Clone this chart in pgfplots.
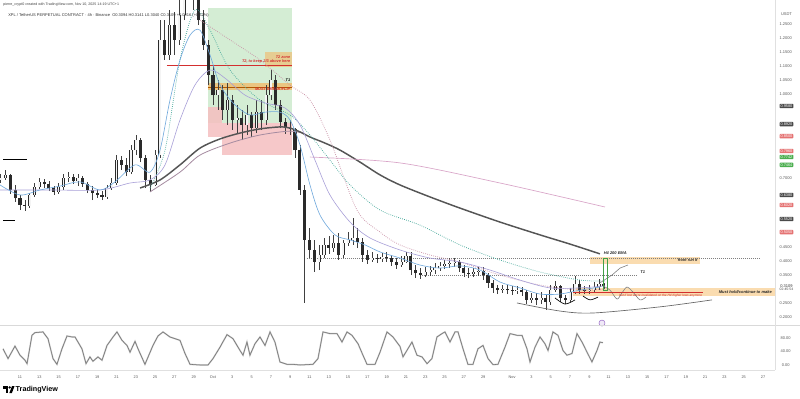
\documentclass[border=0pt]{standalone}
\usepackage{fontspec}
\setmainfont{Liberation Sans}
\usepackage{pgfplots}
\usepackage{pgfplotstable}
\pgfplotsset{compat=1.18}
\definecolor{upc}{HTML}{F4F4F4}
\definecolor{dnc}{HTML}{2A2A2A}
\definecolor{wickc}{HTML}{404040}
\definecolor{tickc}{HTML}{5A5A5A}
\definecolor{blueMA}{HTML}{6FA8DC}
\definecolor{lavMA}{HTML}{A89FD8}
\definecolor{tealDot}{HTML}{45A89A}
\definecolor{pinkDot}{HTML}{C98FA5}
\definecolor{emaDark}{HTML}{555555}
\definecolor{mauve}{HTML}{A58BA0}
\definecolor{pinkLine}{HTML}{D9A5C8}
\definecolor{tvred}{HTML}{D32F2F}
\definecolor{tvgreen}{HTML}{43A047}
\definecolor{boxdark}{HTML}{4A4A4A}
\definecolor{boxred}{HTML}{E57373}
\definecolor{boxgreen}{HTML}{4CAF50}
\definecolor{zoneg}{HTML}{CDEACD}
\definecolor{zoner}{HTML}{F5BFC0}
\definecolor{zoneo}{HTML}{F2B866}
\definecolor{zoneo2}{HTML}{FAD9A8}
\definecolor{evpurple}{HTML}{9C6FC9}

\pgfplotstableread{
d o h l c
9.0 0.692 0.713 0.681 0.699
9.5 0.699 0.728 0.692 0.710
12.0 0.599 0.645 0.591 0.638
12.5 0.638 0.681 0.631 0.667
13.0 0.667 0.699 0.659 0.685
15.0 0.649 0.681 0.642 0.667
15.5 0.667 0.713 0.656 0.699
16.0 0.699 0.720 0.685 0.703
17.0 0.688 0.713 0.670 0.699
20.0 0.631 0.674 0.624 0.663
20.5 0.663 0.699 0.656 0.681
21.0 0.681 0.781 0.674 0.763
22.5 0.720 0.817 0.713 0.799
23.0 0.799 0.853 0.781 0.835
25.0 0.674 0.799 0.670 0.781
25.5 0.781 1.265 0.771 1.194
26.5 1.140 1.301 1.122 1.247
27.5 1.194 1.373 1.176 1.283
28.0 1.283 1.659 1.265 1.444
28.5 1.444 1.681 1.409 1.516
31.5 0.996 1.050 0.943 1.014
32.5 0.943 1.039 0.889 0.978
33.5 0.907 0.961 0.860 0.914
34.5 0.889 0.961 0.853 0.925
35.5 0.878 0.978 0.860 0.935
36.5 0.907 1.032 0.889 0.996
37.0 0.996 1.086 0.978 1.050
42.0 0.398 0.459 0.369 0.423
42.5 0.423 0.484 0.412 0.459
43.5 0.448 0.495 0.434 0.466
44.5 0.423 0.477 0.412 0.466
45.0 0.466 0.505 0.455 0.477
45.5 0.477 0.556 0.459 0.484
47.5 0.405 0.434 0.398 0.412
48.5 0.409 0.430 0.398 0.416
50.5 0.387 0.419 0.380 0.398
51.0 0.398 0.434 0.394 0.419
53.0 0.351 0.380 0.344 0.362
53.5 0.362 0.384 0.348 0.369
54.0 0.369 0.394 0.355 0.376
54.5 0.376 0.398 0.366 0.384
55.0 0.384 0.405 0.373 0.391
55.5 0.391 0.412 0.376 0.394
56.0 0.394 0.412 0.380 0.398
58.0 0.355 0.376 0.344 0.362
58.5 0.362 0.380 0.348 0.366
61.0 0.297 0.315 0.287 0.301
62.5 0.294 0.312 0.283 0.297
64.0 0.262 0.287 0.251 0.269
65.0 0.262 0.290 0.247 0.269
66.0 0.254 0.315 0.244 0.297
66.5 0.297 0.330 0.290 0.312
68.0 0.262 0.305 0.254 0.290
68.5 0.290 0.348 0.283 0.319
70.0 0.294 0.315 0.283 0.297
70.5 0.297 0.326 0.290 0.308
71.0 0.308 0.337 0.297 0.319
}\candlesU

\pgfplotstableread{
d o h l c
10.0 0.710 0.713 0.642 0.656
10.5 0.656 0.674 0.613 0.627
11.0 0.627 0.638 0.584 0.602
11.5 0.602 0.620 0.581 0.599
13.5 0.685 0.695 0.663 0.677
14.0 0.677 0.688 0.652 0.663
14.5 0.663 0.670 0.638 0.649
16.5 0.703 0.713 0.677 0.688
17.5 0.699 0.706 0.667 0.677
18.0 0.677 0.685 0.645 0.656
18.5 0.656 0.670 0.620 0.645
19.0 0.645 0.659 0.627 0.638
19.5 0.638 0.652 0.620 0.631
21.5 0.763 0.778 0.728 0.746
22.0 0.746 0.771 0.706 0.720
23.5 0.835 0.842 0.756 0.771
24.0 0.771 0.781 0.663 0.692
24.5 0.692 0.710 0.649 0.674
26.0 1.194 1.265 1.122 1.140
27.0 1.247 1.294 1.140 1.194
29.0 1.516 1.552 1.301 1.337
29.5 1.337 1.355 1.247 1.265
30.0 1.265 1.301 1.158 1.176
30.5 1.176 1.194 1.032 1.068
31.0 1.068 1.104 0.961 0.996
32.0 1.014 1.032 0.907 0.943
33.0 0.978 0.996 0.871 0.907
34.0 0.914 0.943 0.835 0.889
35.0 0.925 0.935 0.846 0.878
36.0 0.935 0.978 0.871 0.907
37.5 1.050 1.068 0.943 0.961
38.0 0.961 0.978 0.878 0.900
38.5 0.900 0.914 0.857 0.878
39.0 0.878 0.907 0.853 0.875
39.5 0.875 0.878 0.771 0.799
40.0 0.799 0.817 0.638 0.656
40.5 0.656 0.674 0.251 0.477
41.0 0.477 0.520 0.412 0.441
41.5 0.441 0.477 0.362 0.398
43.0 0.459 0.491 0.427 0.448
44.0 0.466 0.502 0.405 0.423
46.0 0.484 0.520 0.448 0.470
46.5 0.470 0.484 0.398 0.423
47.0 0.423 0.441 0.391 0.405
48.0 0.412 0.427 0.394 0.409
49.0 0.416 0.434 0.398 0.412
49.5 0.412 0.423 0.384 0.398
50.0 0.398 0.412 0.373 0.387
51.5 0.419 0.434 0.351 0.369
52.0 0.369 0.387 0.341 0.358
52.5 0.358 0.376 0.337 0.351
56.5 0.398 0.405 0.362 0.376
57.0 0.376 0.387 0.344 0.358
57.5 0.358 0.376 0.341 0.355
59.0 0.366 0.380 0.333 0.351
59.5 0.351 0.358 0.305 0.323
60.0 0.323 0.333 0.287 0.305
60.5 0.305 0.315 0.283 0.297
61.5 0.301 0.315 0.283 0.297
62.0 0.297 0.312 0.280 0.294
63.0 0.297 0.308 0.276 0.290
63.5 0.290 0.297 0.247 0.262
64.5 0.269 0.287 0.244 0.262
65.5 0.269 0.280 0.226 0.254
67.0 0.312 0.315 0.254 0.269
67.5 0.269 0.280 0.247 0.262
69.0 0.319 0.333 0.283 0.297
69.5 0.297 0.312 0.283 0.294
71.5 0.319 0.323 0.301 0.311
}\candlesD

\pgfplotstableread{
d p
23.44 0.663
25.51 0.692
27.58 0.746
29.65 0.806
31.73 0.839
33.80 0.860
35.87 0.875
37.94 0.882
38.98 0.878
40.02 0.864
41.05 0.846
42.61 0.824
44.16 0.799
46.23 0.756
48.31 0.710
50.38 0.674
53.49 0.631
56.60 0.591
60.74 0.541
64.89 0.495
68.00 0.462
71.10 0.427
}\emaTwoHundred

\pgfplotstableread{
d p
24.47 0.649
27.58 0.720
29.65 0.781
32.76 0.824
35.87 0.853
38.98 0.867
40.53 0.857
}\mauveMA

\pgfplotstableread{
d p
41.05 0.774
50.38 0.753
60.74 0.681
71.62 0.595
}\pinkMA

\pgfplotstableread{
d p
8.93 0.674
11.00 0.638
13.07 0.656
15.15 0.670
17.22 0.685
19.29 0.656
20.84 0.685
22.92 0.746
24.47 0.720
25.51 0.799
26.54 0.978
27.58 1.122
28.62 1.211
29.65 1.229
30.69 1.140
31.73 1.032
33.28 0.961
34.83 0.925
36.39 0.935
37.94 0.935
38.98 0.907
40.02 0.817
41.05 0.674
42.09 0.566
43.64 0.495
45.20 0.477
46.75 0.459
48.31 0.434
50.38 0.412
52.45 0.387
54.52 0.376
56.60 0.384
58.67 0.369
60.74 0.326
62.81 0.305
64.89 0.283
66.96 0.283
69.03 0.297
71.10 0.308
}\blueEMA

\pgfplotstableread{
d p
8.93 0.656
14.11 0.656
19.29 0.656
22.40 0.681
24.47 0.692
26.03 0.746
27.58 0.907
29.13 1.032
30.69 1.086
32.24 1.057
34.32 0.996
36.39 0.968
38.46 0.950
40.02 0.889
41.57 0.763
43.12 0.638
45.20 0.541
47.27 0.484
50.38 0.441
53.49 0.412
56.60 0.398
59.70 0.369
62.81 0.333
65.92 0.305
69.03 0.305
71.62 0.312
}\lavEMA

\pgfplotstableread{
d p
24.47 0.663
26.03 0.799
27.58 1.122
29.13 1.301
30.69 1.229
32.76 1.086
35.87 0.978
38.98 0.925
41.05 0.853
43.12 0.763
45.20 0.674
48.31 0.584
52.45 0.530
56.60 0.459
60.74 0.405
64.89 0.362
69.03 0.333
71.62 0.330
}\tealEMA

\pgfplotstableread{
d p
29.65 1.265
32.76 1.194
35.87 1.122
38.98 1.032
41.05 0.978
43.12 0.835
45.92 0.584
48.31 0.505
50.38 0.459
53.49 0.423
56.60 0.398
60.74 0.351
64.89 0.315
69.03 0.297
71.62 0.301
}\pinkEMA

\pgfplotstableread{
d v
9.24 48
9.76 19
10.48 56
11.00 29
11.52 14
11.73 4
12.24 88
12.55 96
13.38 98
13.90 78
14.42 19
14.83 2
15.35 48
15.87 86
16.39 83
16.70 83
17.42 48
17.84 4
18.25 24
18.56 11
19.08 24
19.50 14
20.02 58
20.64 83
21.05 98
21.57 73
22.09 58
22.40 38
22.92 70
23.23 48
23.95 2
24.78 58
25.30 86
25.82 98
26.54 83
27.06 78
27.58 73
28.10 34
28.62 2
29.65 0
30.48 0
31.00 19
31.73 53
32.45 90
33.07 78
33.80 43
34.11 29
34.52 68
34.83 29
35.35 63
35.87 83
36.39 58
36.91 98
37.42 68
37.94 9
38.67 2
39.29 2
40.02 0
41.36 2
41.88 19
42.40 98
43.12 93
43.85 93
44.37 68
44.89 98
45.40 88
46.03 63
46.54 29
46.96 2
47.79 2
48.31 38
49.03 98
49.65 83
50.38 55
50.69 24
51.62 68
52.14 29
52.66 24
53.18 4
53.69 19
54.21 83
54.73 93
55.04 98
55.56 68
56.08 98
56.39 98
56.91 48
57.42 2
57.94 2
58.46 48
58.98 58
59.50 19
60.02 1
60.53 2
61.26 53
61.78 93
62.50 88
63.02 88
63.54 48
63.85 9
64.37 53
64.89 83
65.40 63
65.72 43
66.23 98
66.75 88
67.27 43
67.68 29
68.20 34
68.72 93
69.24 68
69.76 38
70.27 9
70.79 43
71.10 68
71.41 66
}\stoch

\newcommand{\pbox}[3]{\node[fill=#1, text=white, rounded corners=0.6pt, inner xsep=0.8pt, inner ysep=0.6pt, font=\fontsize{2.9}{3.4}\selectfont] at (axis cs:90.43,#2) {#3};}

\pgfplotsset{candle/.style={draw=none, no marks, forget plot, error bars/.cd, y dir=plus, y explicit, error mark=none}}

\begin{document}
\begin{tikzpicture}
\useasboundingbox (0,0) rectangle (600pt,-299.25pt);
\fill[white] (0,0) rectangle (600pt,-299.25pt);

\begin{axis}[
  at={(0,0)}, anchor=north west, scale only axis,
  width=581.25pt, height=243.75pt,
  xmin=8.927, xmax=89.24, ymin=0.172, ymax=1.337,
  axis line style={draw=none}, tick style={draw=none},
  xtick=\empty,
  ytick={0.2,0.25,0.35,0.4,0.45,0.7,1.0,1.05,1.1,1.15,1.2,1.25},
  yticklabel pos=right,
  yticklabel style={anchor=center, xshift=8pt, text=tickc, font=\fontsize{3}{3.6}\selectfont,
    /pgf/number format/.cd, fixed, fixed zerofill, precision=4, assume math mode=true},
  clip mode=individual,
]
% zones
\fill[zoneg, opacity=0.85] (axis cs:30.48,1.308) rectangle (axis cs:39.19,0.896);
\fill[zoner, opacity=0.85] (axis cs:30.48,0.953) rectangle (axis cs:31.93,0.846);
\fill[zoner, opacity=0.85] (axis cs:31.93,0.896) rectangle (axis cs:39.19,0.781);
\fill[zoneo, opacity=0.6] (axis cs:36.39,1.151) rectangle (axis cs:39.19,1.097);
\fill[zoneo, opacity=0.75] (axis cs:30.48,1.039) rectangle (axis cs:39.19,1.014);
\draw[color=orange!70!black, line width=0.5pt] (axis cs:30.48,1.025) -- (axis cs:39.19,1.025);
\draw[tvred, line width=0.6pt] (axis cs:26.23,1.104) -- (axis cs:39.19,1.104);
\fill[zoneo2, opacity=0.9] (axis cs:70.07,0.416) rectangle (axis cs:81.47,0.391);
\fill[zoneo2, opacity=0.9] (axis cs:68.30,0.305) rectangle (axis cs:89.24,0.276);
\draw[gray, densely dotted, line width=0.5pt] (axis cs:40.74,0.412) -- (axis cs:87.70,0.412);
\draw[gray, densely dotted, line width=0.5pt] (axis cs:52.45,0.351) -- (axis cs:74.94,0.351);
\draw[black, line width=0.7pt] (axis cs:9.24,0.767) -- (axis cs:11.73,0.767);
\draw[black, line width=0.7pt] (axis cs:9.24,0.548) -- (axis cs:10.48,0.548);

% candles: wicks
\addplot[candle, error bar style={line width=0.4pt, draw=wickc}]
  table[x=d, y=l, y error plus expr=\thisrow{h}-\thisrow{l}] {\candlesU};
\addplot[candle, error bar style={line width=0.4pt, draw=wickc}]
  table[x=d, y=l, y error plus expr=\thisrow{h}-\thisrow{l}] {\candlesD};
% bodies (hollow up candles: dark outline + light inner)
\addplot[candle, error bar style={line width=2.3pt, draw=dnc}]
  table[x=d, y=o, y error plus expr=\thisrow{c}-\thisrow{o}] {\candlesU};
\addplot[candle, error bar style={line width=1.3pt, draw=upc}]
  table[x=d, y=o, y error plus expr=\thisrow{c}-\thisrow{o}] {\candlesU};
\addplot[candle, error bar style={line width=2.3pt, draw=dnc}]
  table[x=d, y=c, y error plus expr=\thisrow{o}-\thisrow{c}] {\candlesD};

% moving averages
\addplot[mauve, line width=0.6pt, smooth, tension=0.5, forget plot] table[x=d,y=p] {\mauveMA};
\addplot[emaDark, line width=1.1pt, smooth, tension=0.5, forget plot] table[x=d,y=p] {\emaTwoHundred};
\addplot[pinkLine, line width=0.5pt, smooth, forget plot] table[x=d,y=p] {\pinkMA};
\addplot[pinkDot, densely dotted, line width=0.55pt, smooth, tension=0.5, forget plot] table[x=d,y=p] {\pinkEMA};
\addplot[tealDot, densely dotted, line width=0.55pt, smooth, tension=0.5, forget plot] table[x=d,y=p] {\tealEMA};
\addplot[lavMA, line width=0.45pt, smooth, tension=0.5, forget plot] table[x=d,y=p] {\lavEMA};
\addplot[blueMA, line width=0.45pt, smooth, tension=0.5, forget plot] table[x=d,y=p] {\blueEMA};

% drawings near the end
\addplot[gray!80!black, line width=0.5pt, smooth, forget plot] coordinates {(62.50,0.251) (66.96,0.222) (70.38,0.215) (77.32,0.237) (82.71,0.262)};
\addplot[black, line width=0.5pt, smooth, forget plot] coordinates {(66.44,0.269) (67.48,0.247) (68.51,0.262)};
\addplot[black, line width=0.5pt, smooth, forget plot] coordinates {(69.34,0.276) (70.07,0.262) (70.90,0.272)};
\addplot[gray, line width=0.45pt, smooth, forget plot] coordinates {(71.41,0.312) (72.14,0.297) (72.87,0.265) (73.38,0.287) (73.90,0.308) (74.52,0.290) (75.25,0.262) (75.87,0.272)};
\addplot[gray, line width=0.45pt, forget plot] coordinates {(71.10,0.323) (72.35,0.351) (73.18,0.376) (74.0,0.387)};
\draw[tvred, line width=0.6pt] (axis cs:68.30,0.290) -- (axis cs:81.78,0.290);
\draw[tvgreen, line width=0.5pt] (axis cs:71.45,0.412) rectangle (axis cs:71.85,0.297);
\node[circle, draw=evpurple, fill=evpurple!15, line width=0.4pt, minimum size=4.5pt, inner sep=0pt] at (axis cs:71.31,0.179) {};

% texts
\node[anchor=east, text=tvred, font=\fontsize{2.9}{3.4}\selectfont\bfseries\itshape, inner sep=0.5pt] at (axis cs:39.1,1.133) {T2 zone};
\node[anchor=east, text=tvred, font=\fontsize{2.9}{3.4}\selectfont\bfseries\itshape, inner sep=0.5pt] at (axis cs:39.1,1.115) {T2, to keep 2/3 above here};
\node[anchor=east, text=black, font=\fontsize{2.9}{3.4}\selectfont\bfseries\itshape, inner sep=0.5pt] at (axis cs:39.1,1.050) {T1};
\node[anchor=east, text=tvred, font=\fontsize{2.9}{3.4}\selectfont\bfseries\itshape, inner sep=0.5pt] at (axis cs:39.1,1.018) {MUST BREAK/FLIP};
\node[anchor=west, text=black!85, font=\fontsize{3}{3.6}\selectfont\bfseries\itshape, inner sep=0.5pt] at (axis cs:71.4,0.430) {H4 200 EMA};
\node[anchor=east, text=black!85, font=\fontsize{2.9}{3.4}\selectfont\bfseries\itshape, inner sep=0.5pt] at (axis cs:81.3,0.404) {front run it};
\node[anchor=west, text=black!85, font=\fontsize{3}{3.6}\selectfont\bfseries\itshape, inner sep=0.5pt] at (axis cs:75.2,0.362) {T1};
\node[anchor=east, text=black!85, font=\fontsize{3}{3.6}\selectfont\bfseries\itshape, inner sep=0.5pt] at (axis cs:89.0,0.291) {Must hold/continue to make};
\node[anchor=east, text=tvred, font=\fontsize{2.4}{3}\selectfont\itshape, inner sep=0.5pt] at (axis cs:81.78,0.276) {but if lost we're invalidated on the H4 higher lows anymore};

% price scale labels
\node[text=tickc, font=\fontsize{3}{3.6}\selectfont] at (axis cs:90.43,1.287) {USDT};
\pbox{boxdark}{0.957}{0.9580}
\pbox{boxdark}{0.892}{0.8920}
\pbox{boxred}{0.849}{0.8500}
\pbox{boxred}{0.796}{0.7960}
\pbox{boxgreen}{0.774}{0.7742}
\pbox{boxgreen}{0.746}{0.7464}
\pbox{boxdark}{0.638}{0.6380}
\pbox{boxred}{0.602}{0.6020}
\pbox{boxdark}{0.552}{0.5520}
\pbox{boxred}{0.505}{0.5050}
\node[text=black!80, font=\fontsize{3}{3.6}\selectfont, inner sep=0pt] at (axis cs:90.43,0.313) {0.3109};
\node[text=black!70, font=\fontsize{2.6}{3}\selectfont, inner sep=0pt] at (axis cs:90.43,0.299) {02:45:54};
\end{axis}

\begin{axis}[
  at={(0,-243.75pt)}, anchor=north west, scale only axis,
  width=581.25pt, height=33.75pt,
  xmin=8.927, xmax=89.24, ymin=-14.8, ymax=118.5,
  axis line style={draw=none}, tick style={draw=none},
  ytick={0,40,80},
  yticklabel pos=right,
  yticklabel style={anchor=center, xshift=8pt, text=tickc, font=\fontsize{3}{3.6}\selectfont,
    /pgf/number format/.cd, fixed, fixed zerofill, precision=2, assume math mode=true},
  xtick={11,13,15,17,19,21,23,25,27,29,31,33,35,37,39,41,43,45,47,49,51,53,55,57,59,62,64,66,68,70,72,74,76,78,80,82,84,86,88},
  xticklabels={11,13,15,17,19,21,23,25,27,29,Oct,3,5,7,9,11,13,15,17,19,21,23,25,27,29,Nov,3,5,7,9,11,13,15,17,19,21,23,25,27},
  xticklabel style={anchor=center, yshift=-5.25pt, text=tickc, font=\fontsize{2.9}{3.4}\selectfont},
]
\addplot[gray!45, line width=1.1pt, forget plot] table[x=d,y=v] {\stoch};
\addplot[gray!90!black, line width=0.4pt, forget plot] table[x=d,y=v] {\stoch};
\end{axis}

% separators
\draw[black!15, line width=0.4pt] (0,-243.75pt) -- (600pt,-243.75pt);
\draw[black!12, line width=0.4pt] (0,-277.5pt) -- (581.25pt,-277.5pt);
\draw[black!12, line width=0.4pt] (581.25pt,0) -- (581.25pt,-277.5pt);

% header
\node[anchor=west, inner sep=0pt, text=black!75, font=\fontsize{2.7}{3.2}\selectfont] at (2.25pt,-3.6pt) {pierre\_crypt0 created with TradingView.com, Nov 10, 2025 14:19 UTC+1};
\node[anchor=west, inner sep=0pt, text=black!80, font=\fontsize{3}{3.6}\selectfont] at (6pt,-11.25pt) {XPL / TetherUS PERPETUAL CONTRACT · 4h · Binance \ O0.3094 H0.3141 L0.3040 C0.3109 +0.0016 (+0.52\%)};

% TradingView logo
\fill[black] (2.4pt,-289.6pt) rectangle (6.1pt,-291.5pt);
\fill[black] (4.2pt,-291.5pt) rectangle (6.1pt,-294.8pt);
\fill[black] (7.3pt,-290.6pt) circle (0.95pt);
\fill[black] (9.0pt,-289.6pt) -- (10.9pt,-289.6pt) -- (8.9pt,-294.8pt) -- (7.0pt,-294.8pt) -- cycle;
\node[anchor=west, inner sep=0pt, font=\fontsize{5.4}{6}\selectfont\bfseries] at (11.6pt,-292.2pt) {TradingView};
\end{tikzpicture}
\end{document}
